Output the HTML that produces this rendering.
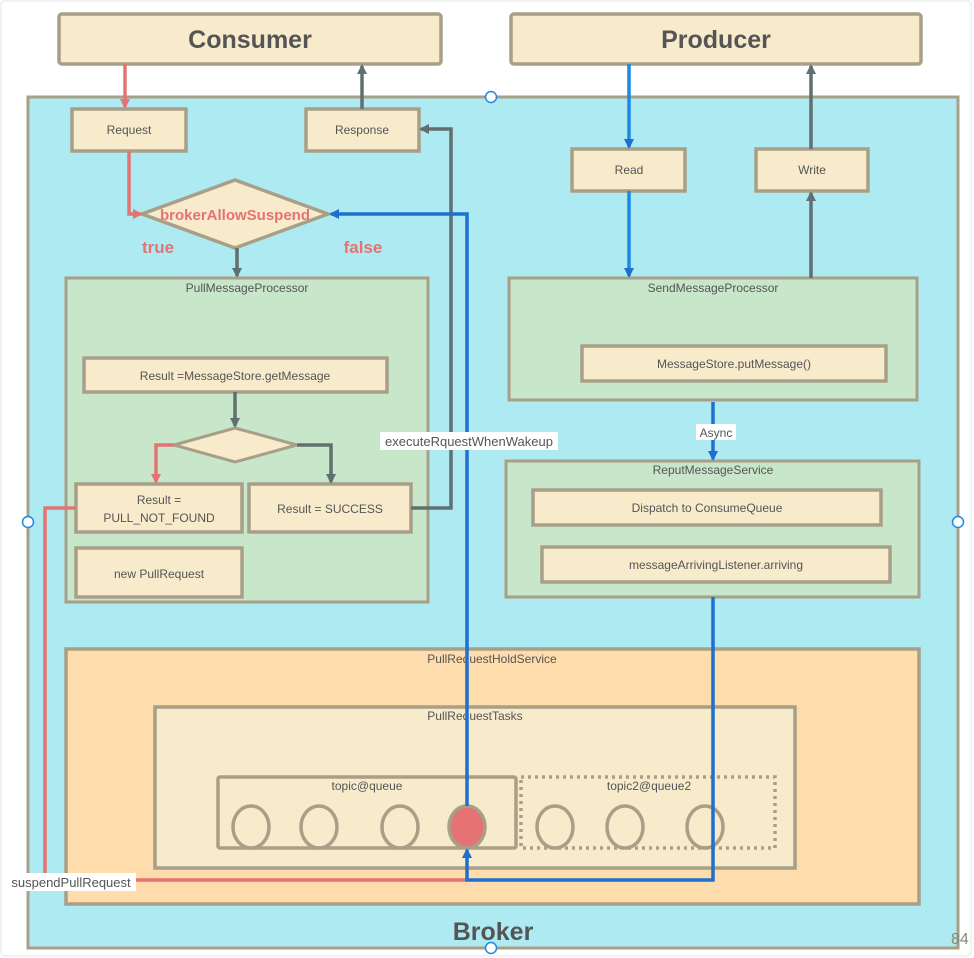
<!DOCTYPE html>
<html><head><meta charset="utf-8"><style>
html,body{margin:0;padding:0;background:#fff;}
svg{display:block;font-family:"Liberation Sans",sans-serif;}
.b{fill:#f7ebcb;stroke:#a89f88;stroke-width:3.5;}
.g{fill:#c8e6c9;stroke:#a89f88;stroke-width:3;}
.t{font-size:13px;fill:#555;text-anchor:middle;}
.s{font-size:12px;fill:#555;text-anchor:middle;}
</style></head><body>
<svg width="974" height="958" viewBox="0 0 974 958" xmlns="http://www.w3.org/2000/svg">
<defs>
<marker id="ar" markerWidth="10" markerHeight="10" refX="8" refY="5" orient="auto" markerUnits="userSpaceOnUse"><path d="M0,0 L10,5 L0,10 z" fill="#e57373"/></marker>
<marker id="ag" markerWidth="10" markerHeight="10" refX="8" refY="5" orient="auto" markerUnits="userSpaceOnUse"><path d="M0,0 L10,5 L0,10 z" fill="#607070"/></marker>
<marker id="ab" markerWidth="10" markerHeight="10" refX="8" refY="5" orient="auto" markerUnits="userSpaceOnUse"><path d="M0,0 L10,5 L0,10 z" fill="#1e6fd0"/></marker>
</defs>
<rect x="1" y="1" width="970" height="955" fill="#fff" stroke="#e4e4e4" rx="4"/>
<rect class="b" x="59" y="14" width="382" height="50" rx="3"/>
<text x="250" y="48" font-size="25" font-weight="bold" fill="#555" text-anchor="middle">Consumer</text>
<rect class="b" x="511" y="14" width="410" height="50" rx="3"/>
<text x="716" y="48" font-size="25" font-weight="bold" fill="#555" text-anchor="middle">Producer</text>
<rect x="28" y="97" width="930" height="851" fill="#aeeaf1" stroke="#a89f88" stroke-width="3"/>
<rect class="b" x="72" y="109" width="114" height="42"/><text class="s" x="129" y="134">Request</text>
<rect class="b" x="306" y="109" width="113" height="42"/><text class="s" x="362" y="134">Response</text>
<rect class="g" x="66" y="278" width="362" height="324"/><text class="s" x="247" y="292">PullMessageProcessor</text>
<polygon points="142,214 235,180 328,214 235,248" fill="#f7ebcb" stroke="#a89f88" stroke-width="3.5"/>
<text x="235" y="220" font-size="15" font-weight="bold" fill="#e57373" text-anchor="middle">brokerAllowSuspend</text>
<text x="158" y="253" font-size="17" font-weight="bold" fill="#e57373" text-anchor="middle">true</text>
<text x="363" y="253" font-size="17" font-weight="bold" fill="#e57373" text-anchor="middle">false</text>
<rect class="b" x="84" y="358" width="303" height="34"/><text class="s" x="235" y="380">Result =MessageStore.getMessage</text>
<polygon points="174,445 235,428 297,445 235,462" fill="#f7ebcb" stroke="#a89f88" stroke-width="3"/>
<rect class="b" x="76" y="484" width="166" height="48"/><text class="s" x="159" y="504">Result =</text><text class="s" x="159" y="522">PULL_NOT_FOUND</text>
<rect class="b" x="249" y="484" width="162" height="48"/><text class="s" x="330" y="513">Result = SUCCESS</text>
<rect class="b" x="76" y="548" width="166" height="49"/><text class="s" x="159" y="578">new PullRequest</text>
<rect class="b" x="572" y="149" width="113" height="42"/><text class="s" x="629" y="174">Read</text>
<rect class="b" x="756" y="149" width="112" height="42"/><text class="s" x="812" y="174">Write</text>
<rect class="g" x="509" y="278" width="408" height="122"/><text class="s" x="713" y="292">SendMessageProcessor</text>
<rect class="b" x="582" y="346" width="304" height="35"/><text class="s" x="734" y="368">MessageStore.putMessage()</text>
<rect class="g" x="506" y="461" width="413" height="136"/><text class="s" x="713" y="474">ReputMessageService</text>
<rect class="b" x="533" y="490" width="348" height="35"/><text class="s" x="707" y="512">Dispatch to ConsumeQueue</text>
<rect class="b" x="542" y="547" width="348" height="35"/><text class="s" x="716" y="569">messageArrivingListener.arriving</text>
<rect x="66" y="649" width="853" height="255" fill="#fedcab" stroke="#a89f88" stroke-width="3.5"/>
<text class="s" x="492" y="663">PullRequestHoldService</text>
<rect class="b" x="155" y="707" width="640" height="161"/><text class="s" x="475" y="720">PullRequestTasks</text>
<rect x="218" y="777" width="298" height="71" fill="none" stroke="#a89f88" stroke-width="3.5" rx="2"/>
<text class="s" x="367" y="790">topic@queue</text>
<rect x="521" y="777" width="254" height="71" fill="none" stroke="#a89f88" stroke-width="3.5" stroke-dasharray="3,4"/>
<text class="s" x="649" y="790">topic2@queue2</text>
<g fill="none" stroke="#a89f88" stroke-width="3.5">
<ellipse cx="251" cy="827" rx="18" ry="21"/><ellipse cx="319" cy="827" rx="18" ry="21"/><ellipse cx="400" cy="827" rx="18" ry="21"/>
<ellipse cx="467" cy="827" rx="18" ry="21" fill="#e57373"/>
<ellipse cx="555" cy="827" rx="18" ry="21"/><ellipse cx="625" cy="827" rx="18" ry="21"/><ellipse cx="705" cy="827" rx="18" ry="21"/>
</g>
<text x="493" y="940" font-size="25" font-weight="bold" fill="#555" text-anchor="middle">Broker</text>
<g fill="none" stroke-width="3.5">
<path d="M125,64 V107" stroke="#e57373" marker-end="url(#ar)"/>
<path d="M129,151 V214 H141" stroke="#e57373" marker-end="url(#ar)"/>
<path d="M237,248 V276" stroke="#607070" marker-end="url(#ag)"/>
<path d="M362,109 V66" stroke="#607070" marker-end="url(#ag)"/>
<path d="M411,508 H451 V129 H421" stroke="#607070" marker-end="url(#ag)"/>
<path d="M235,392 V426" stroke="#607070" marker-end="url(#ag)"/>
<path d="M297,445 H331 V482" stroke="#607070" marker-end="url(#ag)"/>
<path d="M174,445 H156 V482" stroke="#e57373" marker-end="url(#ar)"/>
<path d="M629,64 V147" stroke="#1e88e5" marker-end="url(#ab)"/>
<path d="M629,191 V276" stroke="#1e88e5" marker-end="url(#ab)"/>
<path d="M811,278 V193" stroke="#607070" marker-end="url(#ag)"/>
<path d="M811,149 V66" stroke="#607070" marker-end="url(#ag)"/>
<path d="M713,402 V459" stroke="#1e6fd0" marker-end="url(#ab)"/>
<path d="M76,508 H45 V880 H467" stroke="#e57373"/>
<path d="M713,597 V880 H467 V850" stroke="#1e6fd0" marker-end="url(#ab)"/>
<path d="M467,806 V214 H331" stroke="#1e6fd0" marker-end="url(#ab)"/>
</g>
<rect x="696" y="424" width="40" height="16" fill="#fff"/><text class="s" x="716" y="437">Async</text>
<rect x="380" y="432" width="178" height="18" fill="#fff"/><text class="t" x="469" y="446">executeRquestWhenWakeup</text>
<rect x="7" y="873" width="129" height="18" fill="#fff"/><text class="t" x="71" y="887">suspendPullRequest</text>
<g fill="#fff" stroke="#1e88e5" stroke-width="1.5">
<circle cx="491" cy="97" r="5.5"/><circle cx="28" cy="522" r="5.5"/><circle cx="958" cy="522" r="5.5"/><circle cx="491" cy="948" r="5.5"/>
</g>
<text x="951" y="944" font-size="16" fill="#887">84</text>
</svg>
</body></html>
